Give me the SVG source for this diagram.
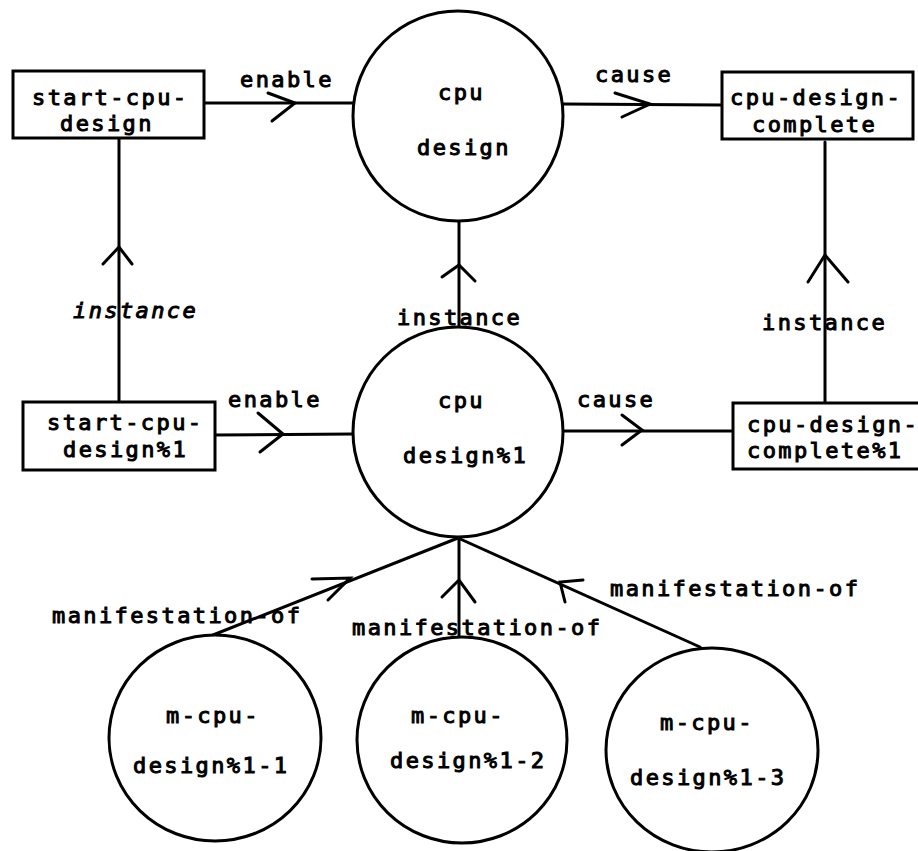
<svg xmlns="http://www.w3.org/2000/svg" width="918" height="851" viewBox="0 0 918 851">
  <style>
    .shape { fill: #ffffff; stroke: #000000; stroke-width: 3; }
    .edge { fill: none; stroke: #000000; stroke-width: 3; stroke-linecap: round; stroke-linejoin: round; }
    .head { fill: none; stroke: #000000; stroke-width: 3; stroke-linecap: round; stroke-linejoin: miter; }
    text { font-family: "DejaVu Sans Mono", "Liberation Mono", monospace; font-size: 22px; letter-spacing: 2.4px; fill: #000000; stroke: #000000; stroke-width: 1px; }
    .it { font-style: italic; }
  </style>
  <rect width="918" height="851" fill="#ffffff"/>

  <g id="connectors">
    <!-- start-cpu-design -> cpu design (enable) -->
    <line class="edge" x1="204" y1="103" x2="353" y2="103"/>
    <path class="head" d="M268,93 L295,103 L272,121"/>
    <text x="240" y="87">enable</text>
    <!-- cpu design -> cpu-design-complete (cause) -->
    <line class="edge" x1="563" y1="104" x2="722" y2="105"/>
    <path class="head" d="M615,93 L650,104 L622,117"/>
    <text x="595" y="82">cause</text>
    <!-- instance links -->
    <line class="edge" x1="119" y1="138" x2="119" y2="402"/>
    <path class="head" d="M103,264 L119,247 L132,264"/>
    <text class="it" x="73" y="318">instance</text>
    <line class="edge" x1="459" y1="220" x2="459" y2="327"/>
    <path class="head" d="M442,277 L459,265 L475,281"/>
    <text x="397" y="325">instance</text>
    <line class="edge" x1="825" y1="142" x2="825" y2="403"/>
    <path class="head" d="M808,282 L825,255 L848,282"/>
    <text x="762" y="330">instance</text>
    <!-- start-cpu-design%1 -> cpu design%1 (enable) -->
    <line class="edge" x1="215" y1="435" x2="353" y2="434"/>
    <path class="head" d="M258,413 L283,434 L260,452"/>
    <text x="228" y="407">enable</text>
    <!-- cpu design%1 -> cpu-design-complete%1 (cause) -->
    <line class="edge" x1="562" y1="431" x2="733" y2="431"/>
    <path class="head" d="M622,415 L642,430 L622,445"/>
    <text x="577" y="407">cause</text>
    <!-- manifestation-of links -->
    <line class="edge" x1="213" y1="635" x2="458" y2="538"/>
    <path class="head" d="M312,579 L350,578 L328,600"/>
    <text x="52" y="623">manifestation-of</text>
    <line class="edge" x1="459" y1="538" x2="459" y2="637"/>
    <path class="head" d="M442,597 L459,580 L475,602"/>
    <text x="352" y="635">manifestation-of</text>
    <line class="edge" x1="700" y1="647" x2="458" y2="538"/>
    <path class="head" d="M583,580 L560,582 L565,602"/>
    <text x="610" y="596">manifestation-of</text>
  </g>

  <g id="start-cpu-design">
    <rect class="shape" x="13" y="71" width="191" height="67"/>
    <text x="32" y="105">start-cpu-</text>
    <text x="60" y="131">design</text>
  </g>

  <g id="cpu-design">
    <circle class="shape" cx="458" cy="116" r="105"/>
    <text x="438" y="100">cpu</text>
    <text x="417" y="155">design</text>
  </g>

  <g id="cpu-design-complete">
    <rect class="shape" x="722" y="72" width="191" height="67"/>
    <text x="730" y="105">cpu-design-</text>
    <text x="752" y="132">complete</text>
  </g>

  <g id="start-cpu-design-1">
    <rect class="shape" x="23" y="402" width="192" height="68"/>
    <text x="47" y="430">start-cpu-</text>
    <text x="63" y="457">design%1</text>
  </g>

  <g id="cpu-design-1">
    <circle class="shape" cx="458" cy="432" r="105"/>
    <text x="438" y="408">cpu</text>
    <text x="403" y="463">design%1</text>
  </g>

  <g id="cpu-design-complete-1">
    <rect class="shape" x="733" y="403" width="200" height="66"/>
    <text x="747" y="432">cpu-design-</text>
    <text x="747" y="458">complete%1</text>
  </g>

  <g id="m-cpu-design-1-1">
    <ellipse class="shape" cx="215" cy="738" rx="106" ry="103"/>
    <text x="166" y="723">m-cpu-</text>
    <text x="133" y="773">design%1-1</text>
  </g>

  <g id="m-cpu-design-1-2">
    <ellipse class="shape" cx="462" cy="740" rx="105" ry="103"/>
    <text x="411" y="723">m-cpu-</text>
    <text x="390" y="768">design%1-2</text>
  </g>

  <g id="m-cpu-design-1-3">
    <ellipse class="shape" cx="712" cy="750" rx="106" ry="102"/>
    <text x="660" y="730">m-cpu-</text>
    <text x="630" y="785">design%1-3</text>
  </g>
</svg>
